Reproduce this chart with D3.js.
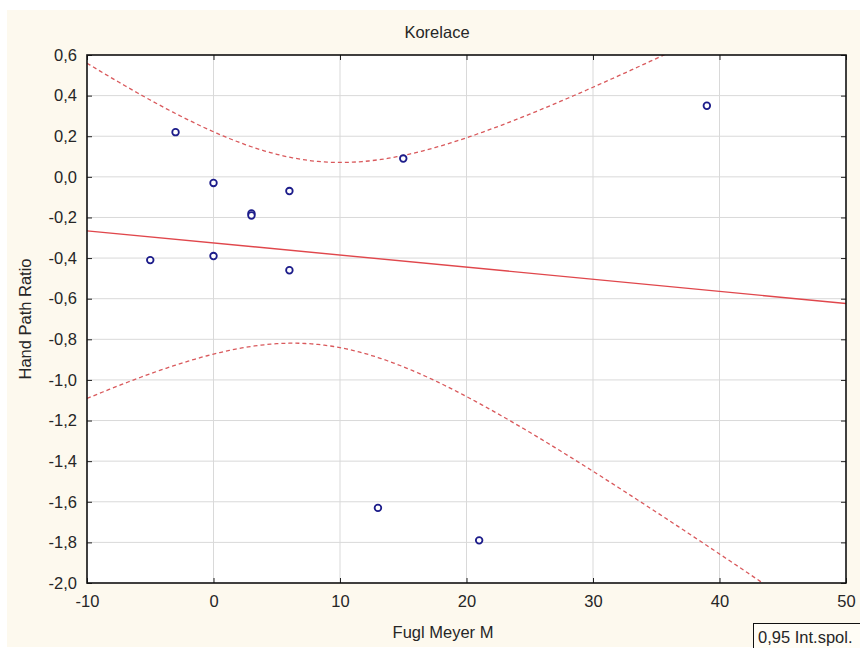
<!DOCTYPE html>
<html>
<head>
<meta charset="utf-8">
<script src="https://cdn.jsdelivr.net/npm/d3@7"></script>
<style>
  body { margin: 0; background: #fff; }
  svg text { font-family: "Liberation Sans", Arial, sans-serif; fill: #262626; }
</style>
</head>
<body>
<div class="chart"></div>
<script>
// DATA ------------------------------------
const fuglMeyer = [-3, 0, 6, 3, 3, -5, 0, 6, 15, 39, 13, 21];
const handPath  = [0.22, -0.03, -0.07, -0.18, -0.19, -0.41, -0.39, -0.46, 0.09, 0.35, -1.63, -1.79];
const xTicks = [-10, 0, 10, 20, 30, 40, 50];
const yTicks = [-2.0, -1.8, -1.6, -1.4, -1.2, -1.0, -0.8, -0.6, -0.4, -0.2, 0.0, 0.2, 0.4, 0.6];
const tCrit = 2.228; // t(0.975, df = n - 2 = 10)

// CHART INIT ------------------------------
const W = 860, H = 648;
const margin = {top: 55, right: 14, bottom: 65, left: 87};
const width = W - margin.left - margin.right,
      height = H - margin.top - margin.bottom;
const fs = 16.5;

const svg = d3.select(".chart").append("svg")
    .attr("width", W)
    .attr("height", H);

// cream panel
svg.append("rect")
    .attr("x", 7).attr("y", 10)
    .attr("width", W - 7).attr("height", H - 11)
    .attr("fill", "#fdf9ee");

const g = svg.append("g")
    .attr("transform", "translate(" + margin.left + "," + margin.top + ")");

const x = d3.scaleLinear().domain([-10, 50]).range([0, width]);
const y = d3.scaleLinear().domain([-2.0, 0.6]).range([height, 0]);

const loc = d3.formatLocale({decimal: ",", thousands: " ", grouping: [3], currency: ["", ""], minus: "-"});
const fmtY = loc.format(".1f");
const fmtX = loc.format("d");

g.append("rect")
    .attr("width", width).attr("height", height)
    .attr("fill", "#fff");

// gridlines
g.append("g").selectAll("line").data(xTicks.slice(1, -1)).join("line")
    .attr("x1", d => x(d)).attr("x2", d => x(d))
    .attr("y1", 0).attr("y2", height)
    .attr("stroke", "#d9d9d9");
g.append("g").selectAll("line").data(yTicks.slice(1, -1)).join("line")
    .attr("y1", d => y(d)).attr("y2", d => y(d))
    .attr("x1", 0).attr("x2", width)
    .attr("stroke", "#d9d9d9");

// regression + confidence bands
const n = fuglMeyer.length;
const mx = d3.mean(fuglMeyer), my = d3.mean(handPath);
const sxx = d3.sum(fuglMeyer, v => (v - mx) ** 2);
const sxy = d3.sum(fuglMeyer, (v, i) => (v - mx) * (handPath[i] - my));
const slope = sxy / sxx, icpt = my - slope * mx;
const sse = d3.sum(fuglMeyer, (v, i) => (handPath[i] - (icpt + slope * v)) ** 2);
const s = Math.sqrt(sse / (n - 2));
const xs = d3.range(-10, 50.01, 0.25);
const half = v => tCrit * s * Math.sqrt(1 / n + (v - mx) ** 2 / sxx);

g.append("clipPath").attr("id", "clip")
  .append("rect").attr("width", width).attr("height", height);

const plot = g.append("g").attr("clip-path", "url(#clip)");

const line = d3.line().x(d => x(d[0])).y(d => y(d[1]));

plot.append("path")
    .attr("d", line(xs.map(v => [v, icpt + slope * v + half(v)])))
    .attr("fill", "none").attr("stroke", "#d9595c")
    .attr("stroke-width", 1.3).attr("stroke-dasharray", "4,3");
plot.append("path")
    .attr("d", line(xs.map(v => [v, icpt + slope * v - half(v)])))
    .attr("fill", "none").attr("stroke", "#d9595c")
    .attr("stroke-width", 1.3).attr("stroke-dasharray", "4,3");
plot.append("path")
    .attr("d", line([[-10, icpt + slope * -10], [50, icpt + slope * 50]]))
    .attr("fill", "none").attr("stroke", "#e0474c")
    .attr("stroke-width", 1.4);

// points
plot.selectAll(".pt").data(fuglMeyer).join("circle")
    .attr("class", "pt")
    .attr("cx", d => x(d))
    .attr("cy", (d, i) => y(handPath[i]))
    .attr("r", 3.3)
    .attr("fill", "#fff")
    .attr("stroke", "#1c1c8a")
    .attr("stroke-width", 1.8);

// axes (ticks pointing inward on all sides)
g.append("g")
    .attr("transform", "translate(0," + height + ")")
    .call(d3.axisBottom(x).tickValues(xTicks).tickSize(-5).tickPadding(12).tickFormat(fmtX))
    .call(a => a.select(".domain").remove());
g.append("g")
    .call(d3.axisTop(x).tickValues(xTicks).tickSize(-5).tickFormat(""))
    .call(a => a.select(".domain").remove());
g.append("g")
    .call(d3.axisLeft(y).tickValues(yTicks).tickSize(-5).tickPadding(10).tickFormat(fmtY))
    .call(a => a.select(".domain").remove());
g.append("g")
    .attr("transform", "translate(" + width + ",0)")
    .call(d3.axisRight(y).tickValues(yTicks).tickSize(-5).tickFormat(""))
    .call(a => a.select(".domain").remove());

g.selectAll(".tick text").attr("font-size", fs).attr("fill", "#262626");
g.selectAll(".tick line").attr("stroke", "#222");

g.append("rect")
    .attr("width", width).attr("height", height)
    .attr("fill", "none").attr("stroke", "#111").attr("stroke-width", 1.6);

// titles
svg.append("text")
    .attr("x", 437).attr("y", 38)
    .attr("text-anchor", "middle").attr("font-size", fs)
    .text("Korelace");
svg.append("text")
    .attr("x", 443).attr("y", 638)
    .attr("text-anchor", "middle").attr("font-size", fs)
    .text("Fugl Meyer M");
svg.append("text")
    .attr("transform", "translate(31," + (margin.top + height / 2) + ") rotate(-90)")
    .attr("text-anchor", "middle").attr("font-size", fs)
    .text("Hand Path Ratio");

// legend box
svg.append("rect")
    .attr("x", 753.5).attr("y", 623.5)
    .attr("width", 110).attr("height", 30)
    .attr("fill", "#fffdf6").attr("stroke", "#111");
svg.append("text")
    .attr("x", 758).attr("y", 643)
    .attr("font-size", fs)
    .text("0,95 Int.spol.");
</script>
</body>
</html>
